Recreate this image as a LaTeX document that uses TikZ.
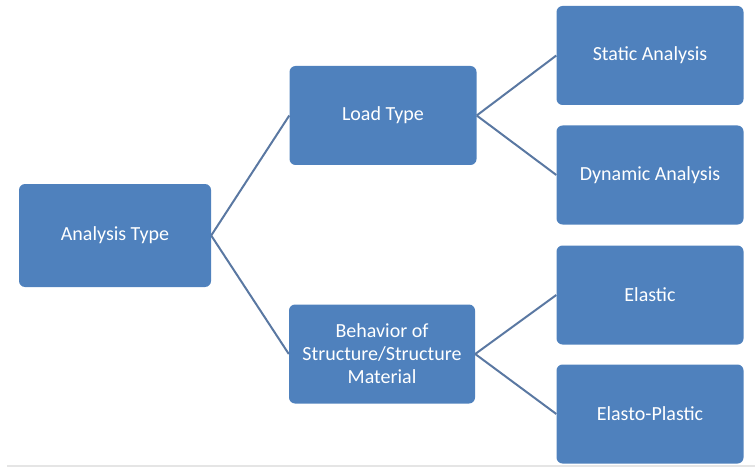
\documentclass[tikz,border=0pt]{standalone}
\usepackage{fontspec}
\setmainfont{Carlito}
\usepackage{tikz}
\usetikzlibrary{positioning}
\definecolor{boxblue}{HTML}{4F81BD}
\definecolor{linkblue}{HTML}{5A78A2}

\begin{document}
\begin{tikzpicture}[x=1pt,y=-1pt,
  stage/.style={fill=boxblue, rounded corners=6pt, text=white,
    minimum width=187pt, minimum height=99pt, align=center,
    font=\fontsize{20}{23}\selectfont},
  link/.style={draw=linkblue, line width=2pt}]
\useasboundingbox (0,0) rectangle (755,468);
\draw[black!10, line width=2pt] (7,466)--(755,466);
\node[stage, minimum width=192pt, minimum height=103pt] (analysis) at (115,235.5) {Analysis Type};
\node[stage] (load) at (383,115.5) {Load Type};
\node[stage, minimum width=186pt] (behavior) at (382,354) {Behavior of\\Structure/Structure\\Material};
\node[stage] (static) at (650,55.5) {Static Analysis};
\node[stage] (dynamic) at (650,175) {Dynamic Analysis};
\node[stage] (elastic) at (650,295) {Elastic};
\node[stage] (plastic) at (650,414) {Elasto-Plastic};
\draw[link] (analysis.east)--(load.west);
\draw[link] (analysis.east)--(behavior.west);
\draw[link] (load.east)--(static.west);
\draw[link] (load.east)--(dynamic.west);
\draw[link] (behavior.east)--(elastic.west);
\draw[link] (behavior.east)--(plastic.west);
\end{tikzpicture}
\end{document}
